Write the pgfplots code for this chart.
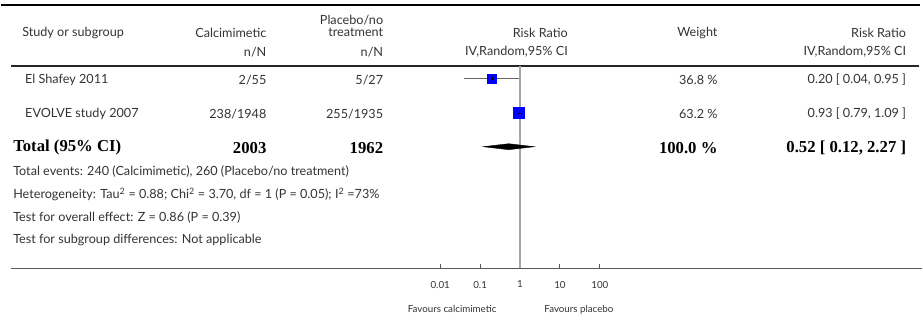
\documentclass[border=0pt]{standalone}
\usepackage{pgfplots}
\pgfplotsset{compat=1.18}
\usepackage{fontspec}
\setmainfont{Lato}
\newfontfamily\serifb{Liberation Serif}
\definecolor{txt}{rgb}{0.2,0.2,0.2}
\definecolor{sqblue}{rgb}{0,0,1}
\newcommand{\tf}{\fontsize{12.7}{14}\selectfont\color{txt}}
\newcommand{\tb}{\serifb\bfseries\fontsize{16.8}{18}\selectfont\color{black}}
\newcommand{\ts}{\fontsize{9.8}{11}\selectfont\color{txt}}
\begin{document}
\begin{tikzpicture}
% layout axis in pixel units
\begin{axis}[at={(0,0)}, anchor=south west, scale only axis, width=923bp, height=320bp,
  xmin=0, xmax=923, ymin=0, ymax=320, y dir=reverse, hide axis, clip=false]
\path (axis cs:0,0) (axis cs:923,320);
\draw[line width=2.2bp, black] (axis cs:0,5) -- (axis cs:921,5);
\draw[line width=2.4bp, black!85] (axis cs:10,66) -- (axis cs:920,66);
\tikzset{every node/.style={inner sep=0pt}}
% header
\node[anchor=west] at (axis cs:21,33) {\tf Study or subgroup};
\node[anchor=east] at (axis cs:266,33) {\tf Calcimimetic};
\node[anchor=east] at (axis cs:383,20) {\tf Placebo/no};
\node[anchor=east] at (axis cs:383,32) {\tf treatment};
\node[anchor=east] at (axis cs:266,52) {\tf n/N};
\node[anchor=east] at (axis cs:383,52) {\tf n/N};
\node[anchor=east] at (axis cs:568,33) {\tf Risk Ratio};
\node[anchor=east] at (axis cs:568,52) {\tf IV,Random,95\% CI};
\node[anchor=east] at (axis cs:718,33) {\tf Weight};
\node[anchor=east] at (axis cs:907,33) {\tf Risk Ratio};
\node[anchor=east] at (axis cs:907,52) {\tf IV,Random,95\% CI};
% rows
\node[anchor=west] at (axis cs:24,80) {\tf El Shafey 2011};
\node[anchor=east] at (axis cs:266,80) {\tf 2/55};
\node[anchor=east] at (axis cs:383,80) {\tf 5/27};
\node[anchor=east] at (axis cs:718,80) {\tf 36.8 \%};
\node[anchor=east] at (axis cs:907,80) {\tf 0.20 [ 0.04, 0.95 ]};
\node[anchor=west] at (axis cs:24,114) {\tf EVOLVE study 2007};
\node[anchor=east] at (axis cs:266,114) {\tf 238/1948};
\node[anchor=east] at (axis cs:383,114) {\tf 255/1935};
\node[anchor=east] at (axis cs:718,114) {\tf 63.2 \%};
\node[anchor=east] at (axis cs:907,114) {\tf 0.93 [ 0.79, 1.09 ]};
\node[anchor=west] at (axis cs:12,148) {\tb Total (95\% CI)};
\node[anchor=east] at (axis cs:266,148) {\tb 2003};
\node[anchor=east] at (axis cs:383,148) {\tb 1962};
\node[anchor=east] at (axis cs:718,148) {\tb 100.0 \%};
\node[anchor=east] at (axis cs:907,148) {\tb 0.52 [ 0.12, 2.27 ]};
\node[anchor=west] at (axis cs:12,172) {\tf Total events: 240 (Calcimimetic), 260 (Placebo/no treatment)};
\node[anchor=west] at (axis cs:12,195) {\tf Heterogeneity: Tau\textsuperscript{2} = 0.88; Chi\textsuperscript{2} = 3.70, df = 1 (P = 0.05); I\textsuperscript{2} =73\%};
\node[anchor=west] at (axis cs:12,218) {\tf Test for overall effect: Z = 0.86 (P = 0.39)};
\node[anchor=west] at (axis cs:12,240) {\tf Test for subgroup differences: Not applicable};
\node at (axis cs:452,310) {\ts Favours calcimimetic};
\node at (axis cs:579,310) {\ts Favours placebo};
\end{axis}
% forest plot axis (log scale), spans pixel x 10..923, y 66..269
\begin{axis}[at={(10bp,51bp)}, anchor=south west, scale only axis, width=913bp, height=203bp,
  xmode=log, xmin=1.7782794e-13, xmax=1.1885022e10, ymin=51, ymax=254,
  axis x line=bottom, axis y line=none, x axis line style={-, line width=1.5bp, black!65},
  xtick={0.01,0.1,1,10,100}, xticklabels={0.01,0.1,1,10,100}, xminorticks=false,
  tick align=inside, major tick length=4bp, tick style={black!65, line width=1bp},
  xticklabel style={font=\ts, yshift=-9bp},
  clip=false]
\addplot[black!35, line width=1.2bp] coordinates {(1,51) (1,254)};
\addplot[black!60, line width=1.2bp] coordinates {(0.04,241) (0.95,241)};
\addplot[black!60, line width=1.2bp] coordinates {(0.79,207) (1.09,207)};
\addplot[only marks, mark=square*, mark size=4.5bp, color=sqblue] coordinates {(0.20,241)};
\addplot[only marks, mark=square*, mark size=5.5bp, color=sqblue] coordinates {(0.93,207)};
\addplot[only marks, mark=+, mark size=1.5bp, black, line width=0.5bp] coordinates {(0.20,241) (0.93,207)};
\addplot[fill=black, draw=black] coordinates {(0.12,173) (0.52,170) (2.27,173) (0.52,176)} -- cycle;
\end{axis}
\end{tikzpicture}
\end{document}
